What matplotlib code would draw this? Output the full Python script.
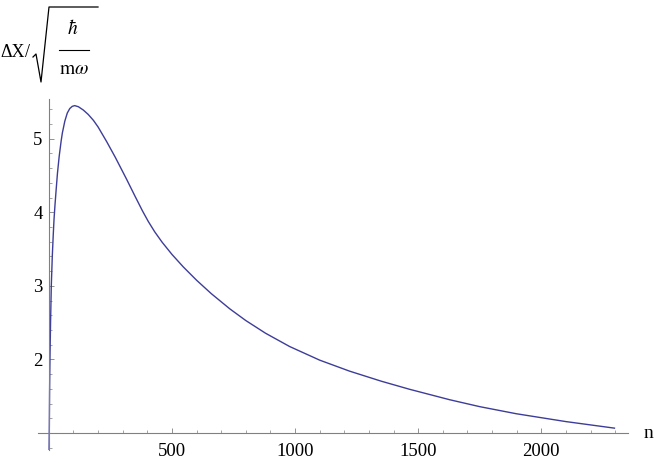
import matplotlib
matplotlib.use('Agg')
import matplotlib.pyplot as plt
from matplotlib.lines import Line2D

plt.rcParams['font.family'] = ['Liberation Serif', 'DejaVu Serif']
plt.rcParams['mathtext.fontset'] = 'stix'

# data
n_vals = [0, 1, 2, 3, 4, 5, 7, 10, 14, 18, 21, 25, 30, 35, 42, 50, 55, 65, 75, 85,
          95, 105, 120, 140, 160, 181, 200, 235, 270, 316, 350, 380, 404, 430,
          460, 500, 546, 600, 660, 735, 800, 880, 978, 1100, 1221, 1350, 1465,
          1628, 1750, 1898, 2100, 2297]
dx_vals = [0.50, 0.75, 1.10, 1.55, 1.85, 2.10, 2.50, 3.00, 3.40, 3.70, 3.90, 4.10,
           4.32, 4.53, 4.76, 4.97, 5.08, 5.24, 5.35, 5.41, 5.44, 5.45, 5.435,
           5.39, 5.33, 5.25, 5.16, 4.96, 4.747, 4.448, 4.219, 4.021, 3.875,
           3.735, 3.594, 3.428, 3.258, 3.077, 2.894, 2.688, 2.529, 2.357, 2.176,
           1.991, 1.842, 1.705, 1.595, 1.453, 1.359, 1.263, 1.156, 1.067]

x_major = [500, 1000, 1500, 2000]
x_minor = [v for v in range(100, 2400, 100) if v % 500 != 0]
y_major = [2, 3, 4, 5]
y_minor = [round(0.8 + 0.2 * i, 1) for i in range(24)
           if abs((0.8 + 0.2 * i) - round(0.8 + 0.2 * i)) > 1e-6]

W, H = 654, 463
fig = plt.figure(figsize=(W / 100, H / 100), dpi=100)
ax = fig.add_axes([38 / W, 13 / H, 590 / W, 351 / H])

ax.plot(n_vals, dx_vals, color='#3d3d99', lw=1.0)

ax.set_xlim(-44, 2352)
ax.set_ylim(0.77, 5.54)

axis_color = '#808080'
for s in ['top', 'right']:
    ax.spines[s].set_visible(False)
ax.spines['left'].set_position(('data', 0))
ax.spines['bottom'].set_position(('data', 1))
for s in ['left', 'bottom']:
    ax.spines[s].set_color(axis_color)
    ax.spines[s].set_linewidth(0.8)

ax.set_xticks(x_major)
ax.set_xticks(x_minor, minor=True)
ax.set_yticks(y_major)
ax.set_yticks(y_minor, minor=True)
ax.tick_params(which='major', direction='in', length=3.5, width=0.6, color=axis_color,
               labelsize=13.5, labelcolor='black')
ax.tick_params(which='minor', direction='in', length=2, width=0.5, color=axis_color)
ax.tick_params(axis='x', which='major', pad=7.5)
ax.tick_params(axis='y', which='major', pad=4.5)


def fx(x):
    return x / W


def fy(y):
    return 1 - y / H


# axis label n
fig.text(fx(648), fy(434), 'n', ha='center', va='center', fontsize=14)

# y label: ΔX / sqrt(ħ / mω)
fig.text(fx(0), fy(57), 'ΔX', ha='left', va='baseline', fontsize=13)
fig.text(fx(25), fy(57), '/', ha='left', va='baseline', fontsize=13)
rx = [33, 36, 41, 49, 98]
ry = [57, 54, 82, 7, 7]
fig.add_artist(Line2D([fx(v) for v in rx], [fy(v) for v in ry],
                      transform=fig.transFigure, color='black', lw=0.9))
fig.add_artist(Line2D([fx(59), fx(89)], [fy(50), fy(50)],
                      transform=fig.transFigure, color='black', lw=0.8))
fig.text(fx(73), fy(29), r'$\hbar$', ha='center', va='center', fontsize=14)
fig.text(fx(74), fy(69), r'$\mathrm{m}\omega$', ha='center', va='center', fontsize=14)

fig.savefig('out.png', dpi=100)
